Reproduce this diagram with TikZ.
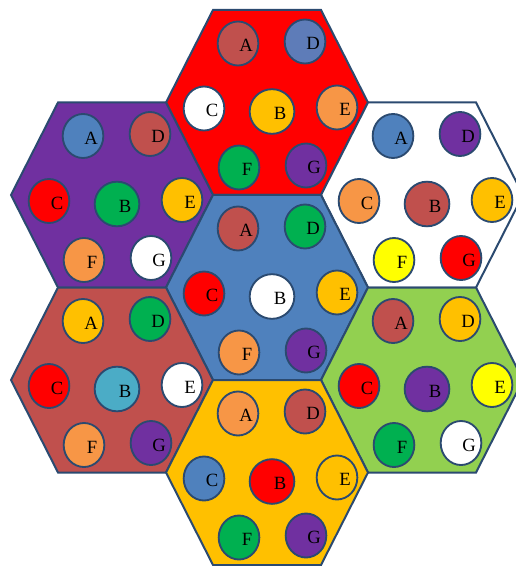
\documentclass[tikz,border=0pt]{standalone}
\usepackage{fontspec}
\setmainfont{Liberation Serif}
\usetikzlibrary{shapes.geometric}

\definecolor{rim}{HTML}{2B4A70}
\definecolor{cred}{HTML}{FF0000}
\definecolor{cbrown}{HTML}{C0504D}
\definecolor{cblue}{HTML}{4F81BD}
\definecolor{cslate}{HTML}{5E7CB8}
\definecolor{cgold}{HTML}{FFC000}
\definecolor{corange}{HTML}{F79646}
\definecolor{cgreen}{HTML}{00B050}
\definecolor{cpurple}{HTML}{7030A0}
\definecolor{cyellow}{HTML}{FFFF00}
\definecolor{cteal}{HTML}{4BACC6}
\definecolor{clime}{HTML}{92D050}

\tikzset{every picture/.style={line width=0.75pt}}
\tikzset{
  hexcell/.style={draw=rim, line width=1.5pt, line join=miter},
  ball/.style={ellipse, draw=rim, line width=1.4pt, inner sep=0pt,
    minimum width=30.5pt, minimum height=33pt},
  bigball/.style={ball, minimum width=33.5pt, minimum height=33.5pt},
  lbl/.style={inner sep=0pt, xshift=6pt, yshift=-1.5pt,
    font=\fontsize{14}{16}\selectfont}
}

\begin{document}
\begin{tikzpicture}[x=0.75pt,y=0.75pt,yscale=-1,xscale=1]
\useasboundingbox (0,0) rectangle (515,566);

%Shape: Hexagon top
\draw [hexcell, fill=cred] (166,102.5) -- (213,10) -- (321,10) -- (368,102.5) -- (321,195) -- (213,195) -- cycle ;
%Shape: Hexagon upper left
\draw [hexcell, fill=cpurple] (11,195) -- (58,102.5) -- (166,102.5) -- (213,195) -- (166,287.5) -- (58,287.5) -- cycle ;
%Shape: Hexagon upper right
\draw [hexcell, fill=white] (321,195) -- (368,102.5) -- (476,102.5) -- (523,195) -- (476,287.5) -- (368,287.5) -- cycle ;
%Shape: Hexagon middle
\draw [hexcell, fill=cblue] (166,287.5) -- (213,195) -- (321,195) -- (368,287.5) -- (321,380) -- (213,380) -- cycle ;
%Shape: Hexagon lower left
\draw [hexcell, fill=cbrown] (11,380) -- (58,287.5) -- (166,287.5) -- (213,380) -- (166,472.5) -- (58,472.5) -- cycle ;
%Shape: Hexagon lower right
\draw [hexcell, fill=clime] (321,380) -- (368,287.5) -- (476,287.5) -- (523,380) -- (476,472.5) -- (368,472.5) -- cycle ;
%Shape: Hexagon bottom
\draw [hexcell, fill=cgold] (166,472.5) -- (213,380) -- (321,380) -- (368,472.5) -- (321,565) -- (213,565) -- cycle ;

% top cell
\node [ball, fill=cbrown, label={[lbl]center:A}] (topA) at (238,43.5) {};
\node [ball, fill=cslate, label={[lbl]center:D}] (topD) at (305,41.5) {};
\node [ball, fill=white, label={[lbl]center:C}] (topC) at (204,108.5) {};
\node [bigball, fill=cgold, label={[lbl]center:B}] (topB) at (272,111.5) {};
\node [ball, fill=corange, label={[lbl]center:E}] (topE) at (337,107.5) {};
\node [ball, fill=cgreen, label={[lbl]center:F}] (topF) at (239,167.5) {};
\node [ball, fill=cpurple, label={[lbl]center:G}] (topG) at (306,165.5) {};

% upper left cell
\node [ball, fill=cblue, label={[lbl]center:A}] (ulA) at (83,136) {};
\node [ball, fill=cbrown, label={[lbl]center:D}] (ulD) at (150,134) {};
\node [ball, fill=cred, label={[lbl]center:C}] (ulC) at (49,201) {};
\node [bigball, fill=cgreen, label={[lbl]center:B}] (ulB) at (117,204) {};
\node [ball, fill=cgold, label={[lbl]center:E}] (ulE) at (182,200) {};
\node [ball, fill=corange, label={[lbl]center:F}] (ulF) at (84,260) {};
\node [ball, fill=white, label={[lbl]center:G}] (ulG) at (151,258) {};

% upper right cell
\node [ball, fill=cblue, label={[lbl]center:A}] (urA) at (393,136) {};
\node [ball, fill=cpurple, label={[lbl]center:D}] (urD) at (460,134) {};
\node [ball, fill=corange, label={[lbl]center:C}] (urC) at (359,201) {};
\node [bigball, fill=cbrown, label={[lbl]center:B}] (urB) at (427,204) {};
\node [ball, fill=cgold, label={[lbl]center:E}] (urE) at (492,200) {};
\node [ball, fill=cyellow, label={[lbl]center:F}] (urF) at (394,260) {};
\node [ball, fill=cred, label={[lbl]center:G}] (urG) at (461,258) {};

% middle cell
\node [ball, fill=cbrown, label={[lbl]center:A}] (midA) at (238,228.5) {};
\node [ball, fill=cgreen, label={[lbl]center:D}] (midD) at (305,226.5) {};
\node [ball, fill=cred, label={[lbl]center:C}] (midC) at (204,293.5) {};
\node [bigball, fill=white, label={[lbl]center:B}] (midB) at (272,296.5) {};
\node [ball, fill=cgold, label={[lbl]center:E}] (midE) at (337,292.5) {};
\node [ball, fill=corange, label={[lbl]center:F}] (midF) at (239,352.5) {};
\node [ball, fill=cpurple, label={[lbl]center:G}] (midG) at (306,350.5) {};

% lower left cell
\node [ball, fill=cgold, label={[lbl]center:A}] (llA) at (83,321) {};
\node [ball, fill=cgreen, label={[lbl]center:D}] (llD) at (150,319) {};
\node [ball, fill=cred, label={[lbl]center:C}] (llC) at (49,386) {};
\node [bigball, fill=cteal, label={[lbl]center:B}] (llB) at (117,389) {};
\node [ball, fill=white, label={[lbl]center:E}] (llE) at (182,385) {};
\node [ball, fill=corange, label={[lbl]center:F}] (llF) at (84,445) {};
\node [ball, fill=cpurple, label={[lbl]center:G}] (llG) at (151,443) {};

% lower right cell
\node [ball, fill=cbrown, label={[lbl]center:A}] (lrA) at (393,321) {};
\node [ball, fill=cgold, label={[lbl]center:D}] (lrD) at (460,319) {};
\node [ball, fill=cred, label={[lbl]center:C}] (lrC) at (359,386) {};
\node [bigball, fill=cpurple, label={[lbl]center:B}] (lrB) at (427,389) {};
\node [ball, fill=cyellow, label={[lbl]center:E}] (lrE) at (492,385) {};
\node [ball, fill=cgreen, label={[lbl]center:F}] (lrF) at (394,445) {};
\node [ball, fill=white, label={[lbl]center:G}] (lrG) at (461,443) {};

% bottom cell
\node [ball, fill=corange, label={[lbl]center:A}] (botA) at (238,413.5) {};
\node [ball, fill=cbrown, label={[lbl]center:D}] (botD) at (305,411.5) {};
\node [ball, fill=cblue, label={[lbl]center:C}] (botC) at (204,478.5) {};
\node [bigball, fill=cred, label={[lbl]center:B}] (botB) at (272,481.5) {};
\node [ball, fill=cgold, label={[lbl]center:E}] (botE) at (337,477.5) {};
\node [ball, fill=cgreen, label={[lbl]center:F}] (botF) at (239,537.5) {};
\node [ball, fill=cpurple, label={[lbl]center:G}] (botG) at (306,535.5) {};

\end{tikzpicture}
\end{document}
